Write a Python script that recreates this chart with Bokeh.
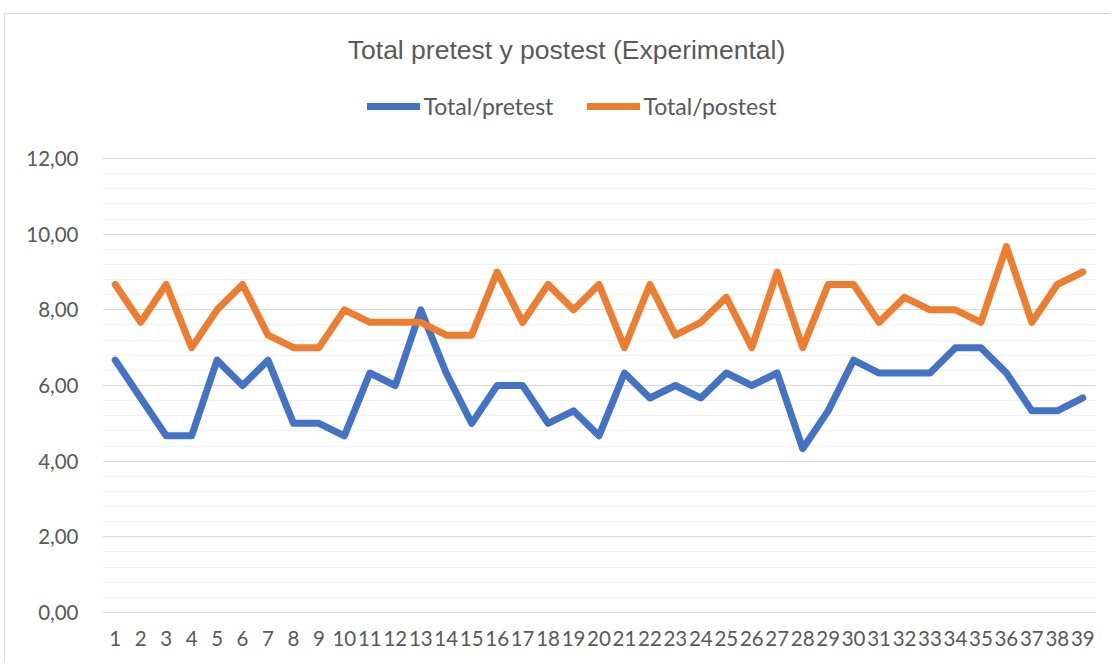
from bokeh.plotting import figure
from bokeh.models import FixedTicker, Legend, LegendItem, Range1d, Label
from bokeh.embed import file_html
from bokeh.resources import INLINE

title_text = "Total pretest y postest (Experimental)"
categories = list(range(1, 40))
pretest = [6.67, 5.67, 4.67, 4.67, 6.67, 6.00, 6.67, 5.00, 5.00, 4.67,
           6.33, 6.00, 8.00, 6.33, 5.00, 6.00, 6.00, 5.00, 5.33, 4.67,
           6.33, 5.67, 6.00, 5.67, 6.33, 6.00, 6.33, 4.33, 5.33, 6.67,
           6.33, 6.33, 6.33, 7.00, 7.00, 6.33, 5.33, 5.33, 5.67]
postest = [8.67, 7.67, 8.67, 7.00, 8.00, 8.67, 7.33, 7.00, 7.00, 8.00,
           7.67, 7.67, 7.67, 7.33, 7.33, 9.00, 7.67, 8.67, 8.00, 8.67,
           7.00, 8.67, 7.33, 7.67, 8.33, 7.00, 9.00, 7.00, 8.67, 8.67,
           7.67, 8.33, 8.00, 8.00, 7.67, 9.67, 7.67, 8.67, 9.00]
y_ticks = [0, 2, 4, 6, 8, 10, 12]
y_tick_labels = ["0,00", "2,00", "4,00", "6,00", "8,00", "10,00", "12,00"]
series_names = ["Total/pretest", "Total/postest"]

FONT = "Lato"
TXT = "#595959"
W, H = 1106, 649

# layout geometry (pixels of the canvas)
FRAME_LEFT, FRAME_RIGHT_PAD, FRAME_BOTTOM_PAD = 97, 16, 51
PLOT_TOP_PX, PLOT_BOTTOM_PX = 144, 598          # where 12 and 0 sit
frame_h = H - FRAME_BOTTOM_PAD
y_top = 12 * frame_h / (PLOT_BOTTOM_PX - PLOT_TOP_PX)   # frame extends to canvas top

p = figure(width=W, height=H, output_backend="svg", toolbar_location=None,
           x_range=Range1d(0.5, 39.5), y_range=Range1d(0, y_top))
p.margin = (13, 0, 0, 4)
p.styles = {"border-top": "1px solid #d9d9d9", "border-left": "1px solid #d9d9d9"}
p.min_border_left = FRAME_LEFT
p.min_border_right = FRAME_RIGHT_PAD
p.min_border_top = 0
p.min_border_bottom = FRAME_BOTTOM_PAD
p.outline_line_color = None
p.background_fill_color = "white"
p.border_fill_color = "white"

r1 = p.line(categories, pretest, line_color="#4472C4", line_width=7,
            line_join="round", line_cap="round")
r2 = p.line(categories, postest, line_color="#ED7D31", line_width=7,
            line_join="round", line_cap="round")

# y axis
minor = [round(i * 0.4, 2) for i in range(31) if round(i * 0.4, 2) not in y_ticks]
p.yaxis.ticker = FixedTicker(ticks=y_ticks, minor_ticks=minor)
p.yaxis.major_label_overrides = {t: l for t, l in zip(y_ticks, y_tick_labels)}
p.yaxis.axis_line_color = None
p.yaxis.major_tick_line_color = None
p.yaxis.minor_tick_line_color = None
p.yaxis.major_label_standoff = 18
p.yaxis.major_label_text_font = FONT
p.yaxis.major_label_text_font_size = "20.5px"
p.yaxis.major_label_text_color = TXT

# x axis
p.xaxis.ticker = FixedTicker(ticks=categories)
p.xaxis.major_label_overrides = {c: str(c) for c in categories}
p.xaxis.axis_line_color = "#d9d9d9"
p.xaxis.major_tick_line_color = None
p.xaxis.minor_tick_line_color = None
p.xaxis.major_label_standoff = 12
p.xaxis.major_label_text_font = FONT
p.xaxis.major_label_text_font_size = "20.5px"
p.xaxis.major_label_text_color = TXT

p.xgrid.grid_line_color = None
p.ygrid.grid_line_color = "#d9d9d9"
p.ygrid.grid_line_width = 1.2
p.ygrid.minor_grid_line_color = "#f0f0f0"
p.ygrid.minor_grid_line_width = 1.2

# title
p.add_layout(Label(x=464, y=frame_h - 35, x_units="screen", y_units="screen",
                   text=title_text, text_align="center", text_baseline="alphabetic",
                   text_font="Liberation Sans", text_font_size="26.5px",
                   text_color=TXT))

# legend
legend = Legend(items=[LegendItem(label=series_names[0], renderers=[r1]),
                       LegendItem(label=series_names[1], renderers=[r2])],
                orientation="horizontal", location=(264.5, frame_h - 83.5 - 22),
                glyph_width=53, glyph_height=22, label_height=22, label_width=130,
                label_standoff=4, spacing=33, padding=0, margin=0,
                border_line_color=None, background_fill_alpha=0,
                label_text_font=FONT, label_text_font_size="23px",
                label_text_color=TXT)
p.add_layout(legend, "center")

open("out.html", "w").write(file_html(p, INLINE))
